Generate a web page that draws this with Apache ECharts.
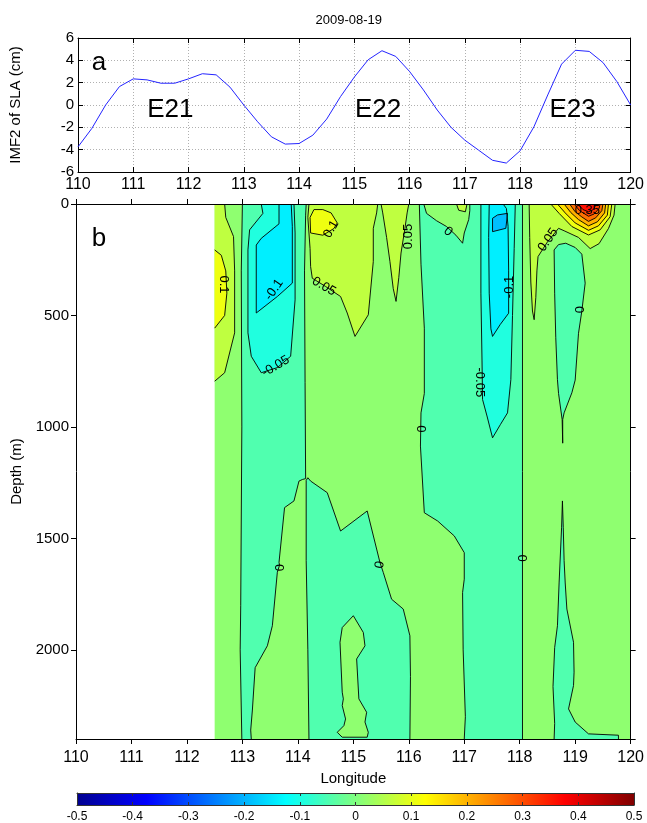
<!DOCTYPE html>
<html><head><meta charset="utf-8">
<script src="https://cdn.jsdelivr.net/npm/echarts/dist/echarts.min.js"></script>
<style>html,body{margin:0;padding:0;background:#fff}#c{width:647px;height:823px}</style>
</head><body><div id="c"></div>
<script>
// ---------- panel a: IMF2 of SLA ----------
const imfLon = [110,110.25,110.5,110.75,111,111.25,111.5,111.75,112,112.25,112.5,112.75,113,113.25,113.5,113.75,114,114.25,114.5,114.75,115,115.25,115.5,115.75,116,116.25,116.5,116.75,117,117.25,117.5,117.75,118,118.25,118.5,118.75,119,119.25,119.5,119.75,120];
const imfValue = [-3.75,-2.1,0,1.65,2.34,2.25,1.95,1.95,2.34,2.8,2.7,1.6,0,-1.5,-2.85,-3.5,-3.45,-2.7,-1.26,0.75,2.5,4.05,4.86,4.35,3.0,1.35,-0.45,-2.0,-3.15,-4.05,-4.95,-5.2,-4.1,-1.95,0.9,3.66,4.9,4.8,3.8,2.1,0];
const eddyLabels = [[111.67,-0.45,'E21'],[115.43,-0.45,'E22'],[118.95,-0.45,'E23']];

// ---------- panel b: contour regions [lon, depth] ----------
const regionBg = [[112.5,0],[120,0],[120,2400],[112.5,2400]];
const regionA = [[112.5,0],[112.68,0],[112.7,60],[112.84,146],[112.86,300],[112.86,578],[112.68,757],[112.5,795]];
const regionA1 = [[112.5,206],[112.62,230],[112.7,300],[112.72,400],[112.68,500],[112.5,557]];
const regionT1 = [[113.0,0],[112.98,300],[112.99,1000],[112.97,1800],[112.96,2000],[112.99,2400],[113.16,2400],[113.15,2360],[113.18,2270],[113.23,2080],[113.45,1982],[113.54,1892],[113.63,1652],[113.67,1620],[113.66,1608],[113.76,1362],[113.93,1332],[114.02,1243],[114.08,1236],[114.14,1232],[114.13,800],[114.12,300],[114.14,50],[114.15,0]];
const regionB1 = [[113.34,0],[113.37,42],[113.13,116],[113.1,206],[113.1,578],[113.16,683],[113.34,757],[113.63,734],[113.87,683],[113.95,430],[113.95,130],[113.93,0]];
const regionB2 = [[113.66,0],[113.66,89],[113.34,154],[113.25,184],[113.25,489],[113.63,415],[113.9,355],[113.9,100],[113.88,0]];
const regionY1 = [[114.2,0],[114.18,60],[114.22,200],[114.23,281],[114.26,333],[114.5,370],[114.77,415],[114.89,489],[115.03,594],[115.27,497],[115.36,258],[115.36,109],[115.42,40],[115.44,0]];
const regionY1b = [[114.29,25],[114.22,60],[114.23,130],[114.45,140],[114.65,110],[114.71,85],[114.6,40],[114.45,25]];
const regionY2 = [[115.5,0],[115.53,40],[115.6,150],[115.66,258],[115.72,380],[115.77,437],[115.82,330],[115.86,220],[115.93,110],[115.97,40],[116.0,0]];
const regionT2 = [[114.15,1240],[114.18,1228],[114.23,1243],[114.53,1295],[114.77,1467],[115.25,1377],[115.48,1608],[115.54,1653],[115.69,1773],[115.9,1817],[116.02,1937],[116.03,2120],[116.02,2400],[114.2,2400],[114.18,2000],[114.15,1600]];
const regionIsland = [[115.0,1847],[114.8,1900],[114.76,1966],[114.8,2190],[114.82,2220],[114.8,2250],[114.86,2310],[114.83,2340],[114.71,2370],[114.8,2392],[115.25,2392],[115.27,2370],[115.21,2324],[115.24,2280],[115.1,2220],[115.06,2041],[115.21,1982],[115.18,1922]];
const regionT3 = [[116.19,0],[116.22,270],[116.28,557],[116.28,850],[116.22,937],[116.21,1086],[116.28,1385],[116.52,1422],[116.82,1489],[117.0,1564],[117.0,1683],[116.97,1743],[116.98,2000],[117.02,2300],[117.0,2400],[118.05,2400],[118.05,0],[117.1,0],[117.1,30],[117.08,70],[117.0,130],[116.97,176],[116.85,140],[116.68,101],[116.5,75],[116.32,42],[116.27,0]];
const regionP = [[116.86,0],[116.9,28],[117.02,35],[117.05,0]];
const regionC1 = [[117.3,0],[117.3,400],[117.32,700],[117.33,877],[117.41,951],[117.51,1049],[117.65,990],[117.78,937],[117.84,788],[117.87,500],[117.9,200],[117.92,0]];
const regionC2 = [[117.45,0],[117.44,150],[117.45,400],[117.48,560],[117.51,594],[117.65,540],[117.8,490],[117.8,300],[117.79,100],[117.76,20],[117.7,0]];
const regionC3 = [[117.51,64],[117.51,124],[117.75,109],[117.78,42],[117.6,49]];
const regionY3 = [[118.17,0],[118.18,150],[118.2,350],[118.23,480],[118.26,519],[118.29,420],[118.31,300],[118.33,236],[118.5,170],[118.7,109],[118.8,120],[119.06,150],[119.27,200],[119.43,178],[119.6,110],[119.7,50],[119.72,0]];
const blob10 = [[118.56,0],[118.71,42],[118.94,101],[119.24,139],[119.45,116],[119.63,57],[119.66,0]];
const blob15 = [[118.68,0],[118.82,40],[119.0,85],[119.24,118],[119.42,98],[119.58,50],[119.6,0]];
const blob20 = [[118.8,0],[118.92,38],[119.06,70],[119.24,98],[119.4,80],[119.53,40],[119.55,0]];
const blob25 = [[118.9,0],[119.0,35],[119.12,58],[119.24,78],[119.37,62],[119.48,30],[119.5,0]];
const blob30 = [[118.98,0],[119.08,30],[119.24,55],[119.34,45],[119.43,20],[119.45,0]];
const blob35 = [[119.05,0],[119.14,25],[119.24,35],[119.33,25],[119.38,0]];
const regionT4 = [[118.62,206],[118.7,182],[118.83,176],[119.0,195],[119.12,225],[119.18,355],[119.12,480],[119.06,580],[119.0,790],[118.94,847],[118.8,937],[118.775,967],[118.775,1073],[118.765,967],[118.7,850],[118.68,788],[118.65,600],[118.63,400]];
const regionT5 = [[118.77,1332],[118.785,1450],[118.8,1600],[118.82,1700],[118.85,1817],[118.97,1966],[118.98,2100],[118.97,2160],[118.88,2265],[119.0,2324],[119.24,2377],[119.78,2383],[119.78,2400],[118.62,2400],[118.63,2330],[118.6,2165],[118.63,1990],[118.68,1892],[118.71,1700],[118.755,1450]];

// band = lower contour level of each filled region (drawing order)
const contourRegions = [
  {band:0, pts:regionBg},
  {band:0.05, pts:regionA}, {band:0.1, pts:regionA1},
  {band:-0.05, pts:regionT1}, {band:-0.1, pts:regionB1}, {band:-0.15, pts:regionB2},
  {band:0.05, pts:regionY1}, {band:0.1, pts:regionY1b}, {band:0.05, pts:regionY2},
  {band:-0.05, pts:regionT2}, {band:0, pts:regionIsland},
  {band:-0.05, pts:regionT3}, {band:0.05, pts:regionP},
  {band:-0.1, pts:regionC1}, {band:-0.15, pts:regionC2}, {band:-0.2, pts:regionC3},
  {band:0.05, pts:regionY3},
  {band:0.1, pts:blob10}, {band:0.15, pts:blob15}, {band:0.2, pts:blob20},
  {band:0.25, pts:blob25}, {band:0.3, pts:blob30}, {band:0.35, pts:blob35},
  {band:-0.05, pts:regionT4}, {band:-0.05, pts:regionT5}
];
const contourLabels = [
  [112.66,361,'0.1',-90],[114.6,113,'0.1',60],[114.47,370,'0.05',-30],[115.99,146,'0.05',90],
  [113.57,385,'-0.1',55],[113.6,728,'-0.05',30],[116.71,124,'0',-40],[117.82,372,'-0.1',90],
  [117.27,800,'-0.05',-90],[118.51,161,'0.05',55],[119.22,31,'0.35',0],[119.09,474,'0',90],
  [116.25,1009,'0',90],[113.69,1631,'0',90],[115.48,1619,'0',80],[118.06,1589,'0',90]
];
const colorbarRange = [[-0.5, 0.5]];

// jet(64) colours for each band's lower level
const bandColor = {'-0.2':'#00BFFF','-0.15':'#00EFFF','-0.1':'#20FFDF','-0.05':'#50FFAF','0':'#8FFF70',
  '0.05':'#BFFF40','0.1':'#EFFF10','0.15':'#FFDF00','0.2':'#FFAF00','0.25':'#FF7000','0.3':'#FF4000','0.35':'#FF1000'};

const FONT = "'Liberation Sans',Arial,sans-serif";
const X0 = 112.5, X1 = 120, D1 = 2400;

function onEdge(a, b) {
  const e = 1e-9;
  return (a[0] <= X0 + e && b[0] <= X0 + e) || (a[0] >= X1 - e && b[0] >= X1 - e) ||
         (a[1] <= e && b[1] <= e) || (a[1] >= D1 - e && b[1] >= D1 - e);
}

const LSTYLE = {fill:null, stroke:'#000', lineWidth:0.9};
function renderRegion(params, api) {
  const idx = api.value(2);
  const r = contourRegions[idx];
  const pts = r.pts;
  const px = pts.map(p => api.coord(p));
  const children = [{type:'polygon', z2: idx, shape:{points:px}, style:{fill: bandColor[String(r.band)]}}];
  if (idx > 0) {
    const n = pts.length;
    let k = -1;
    for (let i = 0; i < n; i++) if (onEdge(pts[i], pts[(i+1)%n])) { k = i; break; }
    if (k < 0) {
      children.push({type:'polygon', z2: 1000+idx, shape:{points:px}, style:LSTYLE});
    } else {
      let run = [];
      for (let s = 1; s <= n; s++) {
        const i = (k + s) % n, j = (i + 1) % n;
        if (onEdge(pts[i], pts[j])) {
          if (run.length > 1) children.push({type:'polyline', z2:1000+idx, shape:{points:run}, style:LSTYLE});
          run = [];
        } else {
          if (run.length === 0) run.push(px[i]);
          run.push(px[j]);
        }
      }
      if (run.length > 1) children.push({type:'polyline', z2:1000+idx, shape:{points:run}, style:LSTYLE});
    }
  }
  return {type:'group', children};
}

function renderLabel(params, api) {
  const l = contourLabels[api.value(2)];
  const p = api.coord([l[0], l[1]]);
  return {type:'text', x:p[0], y:p[1], rotation: l[3]*Math.PI/180, z2: 2000,
    style:{text:l[2], fill:'#000', font:"13px " + FONT, align:'center', verticalAlign:'middle'}};
}

function renderEddy(params, api) {
  const l = eddyLabels[api.value(2)];
  const p = api.coord([l[0], l[1]]);
  return {type:'text', x:p[0], y:p[1], style:{text:l[2], fill:'#000', font:"26px " + FONT, align:'center', verticalAlign:'middle'}};
}

function renderBar(params, api) {
  const a = api.coord([api.value(0), 0]);
  const b = api.coord([api.value(1), 1]);
  return {type:'rect', shape:{x:a[0], y:b[1], width:b[0]-a[0], height:a[1]-b[1]},
    style:{fill: new echarts.graphic.LinearGradient(0,0,1,0,[
      {offset:0,color:'#00008F'},{offset:0.125,color:'#0000FF'},{offset:0.375,color:'#00FFFF'},
      {offset:0.625,color:'#FFFF00'},{offset:0.875,color:'#FF0000'},{offset:1,color:'#800000'}])}};
}

const tickIn = {inside:true, length:5, lineStyle:{color:'#000', width:1}};
const tickOut = {inside:false, length:5, lineStyle:{color:'#000', width:1}};
const line = {show:true, onZero:false, lineStyle:{color:'#000', width:1}};
const lab = (size, margin) => ({color:'#000', fontSize:size, fontFamily:FONT, margin});
const dotted = {show:true, lineStyle:{type:[1,2], color:'#b0b0b0', width:1}};

const chart = echarts.init(document.getElementById('c'), null, {renderer:'canvas'});
chart.setOption({
  animation:false,
  backgroundColor:'#fff',
  textStyle:{fontFamily:FONT},
  graphic:[
    {type:'text', left:355.5-40, top:14, style:{text:'2009-08-19', font:"13px " + FONT, fill:'#000', width:80, align:'center'}},
    {type:'text', x:99, y:63, style:{text:'a', font:"26px " + FONT, fill:'#000', align:'center', verticalAlign:'middle'}},
    {type:'text', x:99, y:239, style:{text:'b', font:"26px " + FONT, fill:'#000', align:'center', verticalAlign:'middle'}, z:100}
  ],
  grid:[
    {left:77, top:38, width:557, height:134},
    {left:76, top:204, width:558, height:535},
    {left:77, top:793, width:557, height:13}
  ],
  xAxis:[
    {gridIndex:0, type:'value', min:110, max:120, interval:1, position:'bottom', axisLine:line, axisTick:tickIn, axisLabel:lab(16,5), splitLine:dotted},
    {gridIndex:0, type:'value', min:110, max:120, interval:1, position:'top', axisLine:line, axisTick:tickIn, axisLabel:{show:false}, splitLine:{show:false}},
    {gridIndex:1, type:'value', min:110, max:120, interval:1, position:'bottom', axisLine:line, axisTick:tickOut, axisLabel:lab(16,11), splitLine:{show:false}, z:10,
      name:'Longitude', nameLocation:'middle', nameGap:32, nameTextStyle:{color:'#000', fontSize:15, fontFamily:FONT}},
    {gridIndex:1, type:'value', min:110, max:120, interval:1, position:'top', axisLine:line, axisTick:tickOut, axisLabel:{show:false}, splitLine:{show:false}, z:10},
    {gridIndex:2, type:'value', min:-0.5, max:0.5, interval:0.1, position:'bottom', axisLine:{show:true, onZero:false, lineStyle:{color:'#333'}}, axisTick:{inside:true, length:3, lineStyle:{color:'#333'}},
      axisLabel:Object.assign(lab(12,6), {formatter: v => String(Math.round(v*10)/10)}), splitLine:{show:false}, z:10},
    {gridIndex:2, type:'value', min:-0.5, max:0.5, interval:0.1, position:'top', axisLine:{show:true, onZero:false, lineStyle:{color:'#333'}}, axisTick:{inside:true, length:3, lineStyle:{color:'#333'}}, axisLabel:{show:false}, splitLine:{show:false}, z:10}
  ],
  yAxis:[
    {gridIndex:0, type:'value', min:-6, max:6, interval:2, position:'left', axisLine:line, axisTick:tickIn, axisLabel:lab(15,4), splitLine:dotted,
      name:'IMF2 of SLA (cm)', nameLocation:'middle', nameGap:55, nameTextStyle:{color:'#000', fontSize:15, fontFamily:FONT}},
    {gridIndex:0, type:'value', min:-6, max:6, interval:2, position:'right', axisLine:line, axisTick:tickIn, axisLabel:{show:false}, splitLine:{show:false}},
    {gridIndex:1, type:'value', inverse:true, min:0, max:2400, interval:500, position:'left', axisLine:line, axisTick:tickOut,
      axisLabel:Object.assign(lab(15,7), {showMaxLabel:false, formatter: v => String(v)}), splitLine:{show:false}, z:10,
      name:'Depth (m)', nameLocation:'middle', nameGap:52, nameTextStyle:{color:'#000', fontSize:15, fontFamily:FONT}},
    {gridIndex:1, type:'value', inverse:true, min:0, max:2400, interval:500, position:'right', axisLine:line, axisTick:tickOut, axisLabel:{show:false}, splitLine:{show:false}, z:10},
    {gridIndex:2, type:'value', min:0, max:1, position:'left', axisLine:{show:true, onZero:false, lineStyle:{color:'#333'}}, axisTick:{show:false}, axisLabel:{show:false}, splitLine:{show:false}, z:10},
    {gridIndex:2, type:'value', min:0, max:1, position:'right', axisLine:{show:true, onZero:false, lineStyle:{color:'#333'}}, axisTick:{show:false}, axisLabel:{show:false}, splitLine:{show:false}, z:10}
  ],
  series:[
    {type:'line', xAxisIndex:0, yAxisIndex:0, data: imfLon.map((x,i)=>[x, imfValue[i]]), showSymbol:false, symbol:'none',
      lineStyle:{color:'#2424ff', width:1}, z:5},
    {type:'custom', xAxisIndex:0, yAxisIndex:0, renderItem:renderEddy, data: eddyLabels.map((l,i)=>[l[0], l[1], i]), z:6},
    {type:'custom', xAxisIndex:2, yAxisIndex:2, renderItem:renderRegion, data: contourRegions.map((r,i)=>[r.pts[0][0], r.pts[0][1], i]), z:2},
    {type:'custom', xAxisIndex:2, yAxisIndex:2, renderItem:renderLabel, data: contourLabels.map((l,i)=>[l[0], l[1], i]), z:3},
    {type:'custom', xAxisIndex:4, yAxisIndex:4, renderItem:renderBar, data: colorbarRange.map(r=>[r[0], r[1]]), z:2}
  ]
});
</script></body></html>
